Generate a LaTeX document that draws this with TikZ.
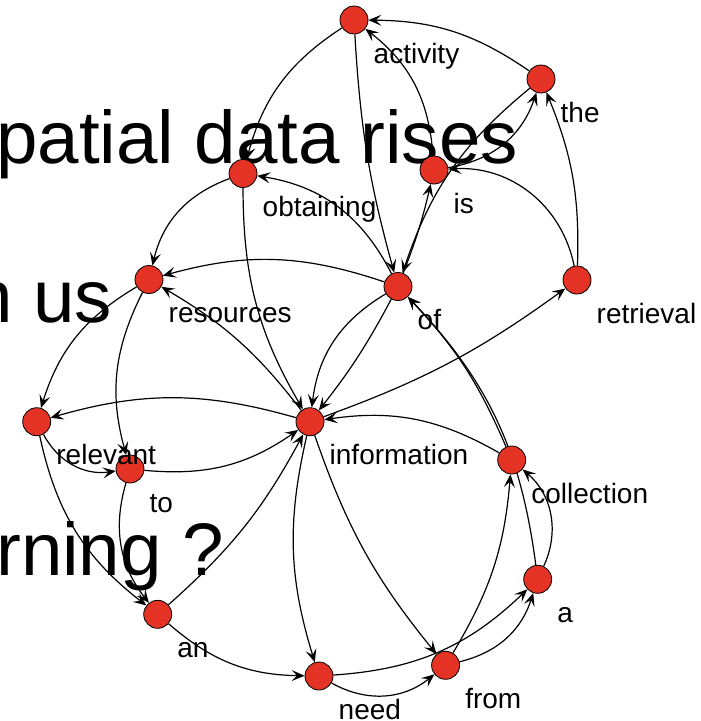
\documentclass[tikz,border=0pt]{standalone}
\usepackage{fontspec}
\setmainfont{Liberation Sans}
\usetikzlibrary{arrows.meta}
\pgfdeclarelayer{back}
\pgfdeclarelayer{edges}
\pgfsetlayers{back,edges,main}
\definecolor{nodered}{RGB}{228,50,36}
\tikzset{
  v/.style={circle, draw=black, line width=0.8pt, fill=nodered, minimum size=28pt, inner sep=0pt},
  lbl/.style={anchor=base west, inner sep=0pt, font=\fontsize{28}{30}\selectfont},
  big/.style={anchor=base west, inner sep=0pt, font=\fontsize{74.5}{80}\selectfont},
  e/.style={draw=black, line width=1.2pt, -{Stealth[length=13pt,width=11pt,inset=5.5pt]}},
}
\begin{document}
\begin{tikzpicture}[x=1pt,y=-1pt]
\clip (0,0) rectangle (701,721);
\begin{pgfonlayer}{back}
\fill[white] (0,0) rectangle (701,721);
\node[big] (t1) at (-4,163) {patial data rises};
\node[big] (t2) at (-29,322) {n us};
\node[big] (t3) at (-4,575) {rning ?};
\end{pgfonlayer}
% nodes
\node[v] (act) at (354,20) {};
\node[v] (the) at (541,79) {};
\node[v] (obt) at (243,173.5) {};
\node[v] (is) at (434,170) {};
\node[v] (res) at (149,279.5) {};
\node[v] (of) at (398,286.5) {};
\node[v] (ret) at (577,280) {};
\node[v] (rel) at (36.7,421.7) {};
\node[v] (inf) at (310,421.7) {};
\node[v] (to) at (130,469) {};
\node[v] (col) at (511.7,460) {};
\node[v] (a) at (537.7,579.3) {};
\node[v] (an) at (157.7,614.3) {};
\node[v] (need) at (319,676) {};
\node[v] (from) at (445.6,665.3) {};
% labels
\node[lbl] (lact) at ([shift={(19.5,43)}]act.center) {activity};
\node[lbl] (lthe) at ([shift={(19.5,43)}]the.center) {the};
\node[lbl] (lobt) at ([shift={(19.5,43)}]obt.center) {obtaining};
\node[lbl] (lis) at ([shift={(19.5,43)}]is.center) {is};
\node[lbl] (lres) at ([shift={(19.5,43)}]res.center) {resources};
\node[lbl] (lof) at ([shift={(19.5,43)}]of.center) {of};
\node[lbl] (lret) at ([shift={(19.5,43)}]ret.center) {retrieval};
\node[lbl] (lrel) at ([shift={(19.5,43)}]rel.center) {relevant};
\node[lbl] (linf) at ([shift={(19.5,43)}]inf.center) {information};
\node[lbl] (lto) at ([shift={(19.5,43)}]to.center) {to};
\node[lbl] (lcol) at ([shift={(19.5,43)}]col.center) {collection};
\node[lbl] (la) at ([shift={(19.5,43)}]a.center) {a};
\node[lbl] (lan) at ([shift={(19.5,43)}]an.center) {an};
\node[lbl] (lneed) at ([shift={(19.5,43)}]need.center) {need};
\node[lbl] (lfrom) at ([shift={(19.5,43)}]from.center) {from};
% edges
\begin{pgfonlayer}{edges}
\draw[e] (the) to[bend right=17] (act);
\draw[e] (is) to[bend right=24] (act);
\draw[e] (act) to[bend right=21] (obt);
\draw[e] (act) to[bend right=6] (of);
\draw[e] (of) to[bend right=27] (obt);
\draw[e] (obt) to[bend right=28] (res);
\draw[e] (obt) to[bend right=15] (inf);
\draw[e] (of) to[bend right=17] (res);
\draw[e] (inf) to[bend right=11] (res);
\draw[e] (of) to[bend right=26] (inf);
\draw[e] (of) to[bend left=5] (inf);
\draw[e] (of) to[bend right=4] (is);
\draw[e] (is) to[bend right=31] (the);
\draw[e] (the) to[bend right=16] (of);
\draw[e] (ret) to[bend right=12] (the);
\draw[e] (ret) to[bend right=41] (is);
\draw[e] (inf) to[bend right=8] (ret);
\draw[e] (inf) to[bend right=16] (rel);
\draw[e] (res) to[bend right=21] (rel);
\draw[e] (res) to[bend right=21] (to);
\draw[e] (rel) to[bend right=35] (to);
\draw[e] (to) to[bend right=20] (inf);
\draw[e] (rel) to[bend right=20] (an);
\draw[e] (to) to[bend right=27] (an);
\draw[e] (an) to[bend right=10] (inf);
\draw[e] (an) to[bend right=20] (need);
\draw[e] (inf) to[bend right=15] (need);
\draw[e] (inf) to[bend right=10] (from);
\draw[e] (need) to[bend right=34] (from);
\draw[e] (need) to[bend right=20] (a);
\draw[e] (from) to[bend right=29] (a);
\draw[e] (from) to[bend right=13] (col);
\draw[e] (a) to[bend right=37] (col);
\draw[e] (a) to[bend right=18] (of);
\draw[e] (col) to[bend right=10] (of);
\draw[e] (col) to[bend right=19] (inf);
\end{pgfonlayer}
\end{tikzpicture}
\end{document}
